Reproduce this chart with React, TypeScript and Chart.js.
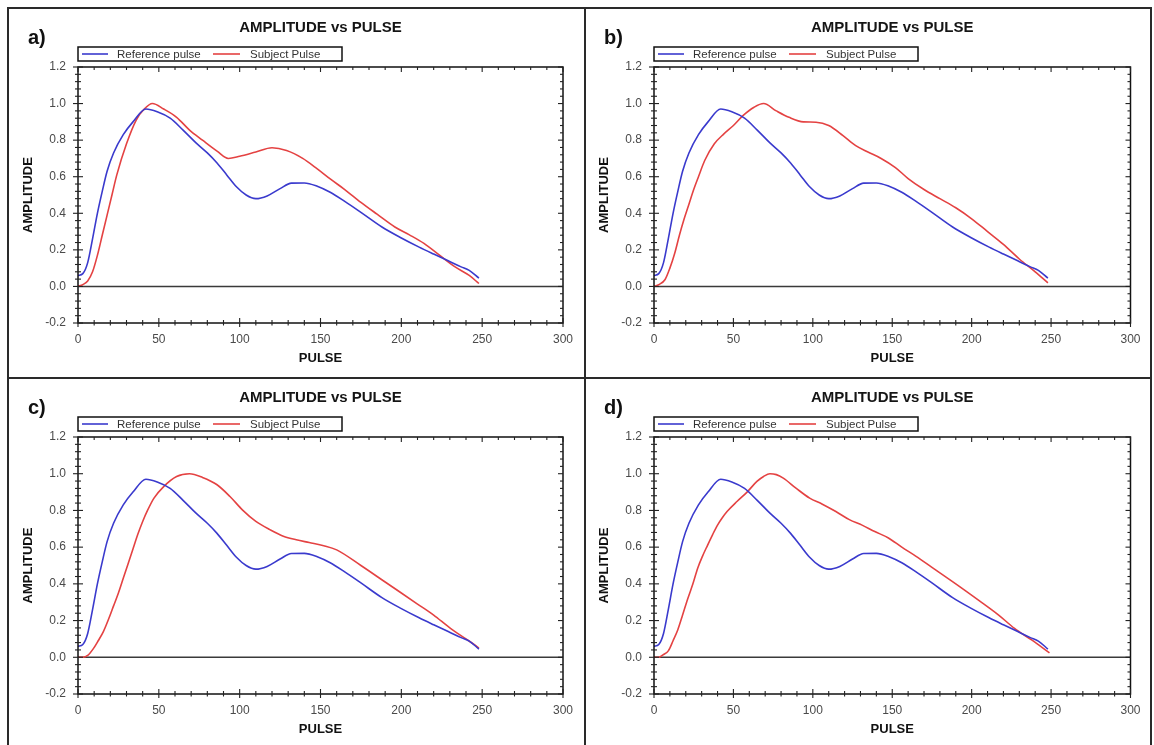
import React, { useEffect, useRef } from "react";
import { Chart, registerables } from "chart.js";

Chart.register(...registerables);

const FONT = "'Liberation Sans', Arial, sans-serif";
const BLUE = "rgb(58,58,205)";
const RED = "rgb(228,66,66)";

// ---- data ----
const seriesNames = ["Reference pulse", "Subject Pulse"];
const panelLabels = ["a)", "b)", "c)", "d)"];
const chartTitle = "AMPLITUDE vs PULSE";
const xAxisTitle = "PULSE";
const yAxisTitle = "AMPLITUDE";

const xMin = 0, xMax = 300, xStep = 50, xMinorStep = 10;
const yMin = -0.2, yMax = 1.2, yStep = 0.2, yMinorStep = 0.04;

const refPulseX = [0, 3, 6, 9, 12, 15, 18, 22, 28, 34, 42, 49, 57, 65, 73, 80, 86, 92, 98, 104, 110, 117, 125, 132, 140, 148, 156, 165, 175, 188, 200, 211, 220, 229, 237, 242, 248];
const refPulseY = [0.06, 0.07, 0.13, 0.26, 0.40, 0.52, 0.63, 0.73, 0.83, 0.90, 0.97, 0.955, 0.92, 0.855, 0.785, 0.73, 0.675, 0.61, 0.545, 0.50, 0.48, 0.495, 0.535, 0.565, 0.566, 0.548, 0.515, 0.465, 0.405, 0.325, 0.265, 0.215, 0.177, 0.14, 0.107, 0.088, 0.045];

const subjectAX = [0, 3, 6, 9, 12, 15, 18, 21, 24, 30, 36, 41, 46, 53, 61, 69, 77, 86, 93, 100, 110, 120, 129, 139, 148, 156, 165, 175, 185, 196, 205, 214, 224, 233, 242, 248];
const subjectAY = [0.0, 0.01, 0.03, 0.08, 0.17, 0.28, 0.39, 0.50, 0.61, 0.78, 0.91, 0.97, 1.0, 0.97, 0.925, 0.855, 0.80, 0.74, 0.70, 0.712, 0.735, 0.758, 0.743, 0.70, 0.643, 0.588, 0.53, 0.46, 0.395, 0.325, 0.282, 0.235, 0.168, 0.108, 0.06, 0.016];

const subjectBX = [0, 3, 7, 10, 13, 16, 19, 22, 25, 28, 32, 38, 44, 50, 56, 63, 69, 77, 85, 94, 102, 110, 119, 127, 135, 143, 152, 160, 170, 180, 190, 200, 210, 220, 230, 240, 248];
const subjectBY = [0.0, 0.01, 0.038, 0.1, 0.18, 0.28, 0.37, 0.45, 0.53, 0.60, 0.69, 0.78, 0.834, 0.88, 0.934, 0.98, 1.0, 0.96, 0.925, 0.90, 0.898, 0.88, 0.825, 0.77, 0.734, 0.70, 0.65, 0.59, 0.53, 0.48, 0.43, 0.37, 0.30, 0.23, 0.15, 0.08, 0.02];

const subjectCX = [0, 3, 6, 9.5, 12.5, 15.7, 19, 22, 25, 28, 31, 34, 37, 40, 43, 47, 53, 61, 69, 77, 86, 94, 102, 110, 119, 127, 135, 143, 152, 160, 175, 190, 200, 210, 220, 230, 240, 245, 248];
const subjectCY = [0.0, 0.0, 0.01, 0.047, 0.09, 0.14, 0.21, 0.28, 0.35, 0.43, 0.51, 0.59, 0.67, 0.74, 0.80, 0.867, 0.93, 0.985, 1.0, 0.98, 0.94, 0.876, 0.80, 0.74, 0.694, 0.66, 0.64, 0.625, 0.608, 0.585, 0.50, 0.41, 0.35, 0.29, 0.23, 0.16, 0.10, 0.07, 0.05];

const subjectDX = [0, 3, 6, 9, 12, 15, 18, 21.3, 24.5, 27.5, 30.5, 33.7, 37, 40, 43, 46, 52.4, 58.6, 64.8, 69, 73, 77, 81.4, 89.6, 98, 106, 114.5, 123, 131, 139, 147.6, 156, 165, 175, 190, 204.5, 217, 227, 238, 249];
const subjectDY = [0.0, 0.0, 0.015, 0.035, 0.09, 0.15, 0.23, 0.32, 0.40, 0.485, 0.55, 0.61, 0.67, 0.72, 0.76, 0.794, 0.85, 0.90, 0.958, 0.985, 1.0, 0.995, 0.976, 0.92, 0.867, 0.834, 0.794, 0.75, 0.72, 0.685, 0.65, 0.60, 0.55, 0.49, 0.40, 0.31, 0.23, 0.157, 0.093, 0.024];

const subjectXs = [subjectAX, subjectBX, subjectCX, subjectDX];
const subjectYs = [subjectAY, subjectBY, subjectCY, subjectDY];

// ---- layout (page px) ----
type Spec = {
  left: number; top: number; width: number; height: number;
  plotL: number; plotR: number; plotT: number; plotB: number;
};
const specs: Spec[] = [
  { left: 9, top: 9, width: 575, height: 368, plotL: 78, plotR: 563, plotT: 67, plotB: 323 },
  { left: 586, top: 9, width: 564, height: 368, plotL: 654, plotR: 1137, plotT: 67, plotB: 323 },
  { left: 9, top: 379, width: 575, height: 366, plotL: 78, plotR: 563, plotT: 437, plotB: 694 },
  { left: 586, top: 379, width: 564, height: 366, plotL: 654, plotR: 1137, plotT: 437, plotB: 694 },
];

const line = (ctx: CanvasRenderingContext2D, x1: number, y1: number, x2: number, y2: number) => {
  ctx.beginPath();
  ctx.moveTo(x1, y1);
  ctx.lineTo(x2, y2);
  ctx.stroke();
};

const decorPlugin = {
  id: "decor",
  beforeDatasetsDraw(chart: any) {
    const { ctx, chartArea: ca, scales } = chart;
    const y0 = scales.y.getPixelForValue(0);
    ctx.save();
    ctx.strokeStyle = "#3a3a3a";
    ctx.lineWidth = 1.6;
    line(ctx, ca.left, y0, ca.right, y0);
    ctx.restore();
  },
  afterDraw(chart: any, _args: any, opts: any) {
    const { ctx, chartArea: ca, scales } = chart;
    const L = ca.left, R = ca.right, T = ca.top, B = ca.bottom;
    ctx.save();
    // frame
    ctx.strokeStyle = "#111";
    ctx.lineWidth = 1.5;
    ctx.strokeRect(L, T, R - L, B - T);
    // ticks
    ctx.lineWidth = 1.1;
    ctx.strokeStyle = "#222";
    const nx = Math.round((xMax - xMin) / xMinorStep);
    for (let i = 0; i <= nx; i++) {
      const v = xMin + i * xMinorStep;
      const px = scales.x.getPixelForValue(v);
      const major = (v % xStep) === 0;
      line(ctx, px, B - (major ? 5 : 3), px, B + (major ? 4 : 2.5));
      line(ctx, px, T, px, T + (major ? 5 : 3));
    }
    const ny = Math.round((yMax - yMin) / yMinorStep);
    const per = Math.round(yStep / yMinorStep);
    for (let i = 0; i <= ny; i++) {
      const v = yMin + i * yMinorStep;
      const py = scales.y.getPixelForValue(v);
      const major = i % per === 0;
      line(ctx, L - (major ? 5 : 3), py, L + (major ? 5 : 3), py);
      line(ctx, R - (major ? 5 : 3), py, R, py);
    }
    // title
    ctx.fillStyle = "#151515";
    ctx.font = `bold 15px ${FONT}`;
    ctx.textAlign = "center";
    ctx.textBaseline = "middle";
    ctx.fillText(chartTitle, (L + R) / 2, T - 39);
    // panel label
    ctx.font = `bold 20px ${FONT}`;
    ctx.textAlign = "left";
    ctx.fillStyle = "#111";
    ctx.fillText(opts.label, L - 50, T - 29);
    // legend
    const ly = T - 13;
    ctx.strokeStyle = "#111";
    ctx.lineWidth = 1.5;
    ctx.strokeRect(L, T - 20, 264, 14);
    const ds = chart.data.datasets;
    const items = [
      { x0: L + 4, x1: L + 30, tx: L + 39 },
      { x0: L + 135, x1: L + 162, tx: L + 172 },
    ];
    ctx.font = `11.5px ${FONT}`;
    items.forEach((it, i) => {
      ctx.strokeStyle = ds[i].borderColor;
      ctx.lineWidth = 1.6;
      line(ctx, it.x0, ly, it.x1, ly);
      ctx.fillStyle = "#333";
      ctx.fillText(ds[i].label, it.tx, ly + 0.5);
    });
    ctx.restore();
  },
};

function Panel({ idx }: { idx: number }) {
  const ref = useRef<HTMLCanvasElement>(null);
  const s = specs[idx];
  useEffect(() => {
    const canvas = ref.current;
    if (!canvas) return;
    const yAxisWidth = s.plotL - s.left;
    const xAxisHeight = s.top + s.height - s.plotB;
    const yTitlePad = s.plotL - 50 - s.left - 7.8;
    const xTitlePad = s.top + s.height - (s.plotB + 35) - 7.8;
    const chart = new Chart(canvas, {
      type: "line",
      data: {
        datasets: [
          {
            label: seriesNames[0],
            data: refPulseX.map((x, i) => ({ x, y: refPulseY[i] })),
            borderColor: BLUE,
            borderWidth: 1.6,
            pointRadius: 0,
            cubicInterpolationMode: "monotone",
            fill: false,
          },
          {
            label: seriesNames[1],
            data: subjectXs[idx].map((x, i) => ({ x, y: subjectYs[idx][i] })),
            borderColor: RED,
            borderWidth: 1.6,
            pointRadius: 0,
            cubicInterpolationMode: "monotone",
            fill: false,
          },
        ],
      },
      options: {
        responsive: true,
        maintainAspectRatio: false,
        animation: false,
        events: [],
        layout: {
          padding: { left: 0, top: s.plotT - s.top, right: s.left + s.width - s.plotR, bottom: 0 },
        },
        plugins: {
          legend: { display: false },
          title: { display: false },
          tooltip: { enabled: false },
          decor: { label: panelLabels[idx] },
        } as any,
        scales: {
          x: {
            type: "linear",
            min: xMin,
            max: xMax,
            ticks: { stepSize: xStep, padding: 9.5, color: "#4a4a4a", font: { family: FONT, size: 12 } },
            grid: { display: false, drawTicks: false },
            border: { display: false },
            title: {
              display: true,
              text: xAxisTitle,
              color: "#111",
              font: { family: FONT, size: 13, weight: "bold" },
              padding: { top: 0, bottom: xTitlePad },
            },
            afterFit: (sc: any) => { sc.height = xAxisHeight; },
          },
          y: {
            type: "linear",
            min: yMin,
            max: yMax,
            ticks: {
              stepSize: yStep,
              padding: 12,
              color: "#4a4a4a",
              font: { family: FONT, size: 12 },
              callback: (v: any) => {
                const n = Number(v);
                return (Math.abs(n) < 1e-9 ? 0 : n).toFixed(1);
              },
            },
            grid: { display: false, drawTicks: false },
            border: { display: false },
            title: {
              display: true,
              text: yAxisTitle,
              color: "#111",
              font: { family: FONT, size: 13, weight: "bold" },
              padding: { top: yTitlePad, bottom: 0 },
            },
            afterFit: (sc: any) => { sc.width = yAxisWidth; },
          },
        },
      } as any,
      plugins: [decorPlugin],
    });
    return () => chart.destroy();
  }, [idx]);
  return (
    <div style={{ position: "absolute", left: s.left, top: s.top, width: s.width, height: s.height }}>
      <canvas ref={ref} />
    </div>
  );
}

const bar = (left: number, top: number, width: number, height: number) => (
  <div style={{ position: "absolute", left, top, width, height, background: "#2a2a2a" }} />
);

export default function App() {
  return (
    <div style={{ position: "absolute", left: 0, top: 0, width: 1154, height: 745, background: "#fff", overflow: "hidden" }}>
      {[0, 1, 2, 3].map((i) => <Panel key={i} idx={i} />)}
      {bar(7, 7, 1145, 2)}
      {bar(7, 7, 2, 740)}
      {bar(1150, 7, 2, 740)}
      {bar(584, 7, 2, 740)}
      {bar(7, 377, 1145, 2)}
    </div>
  );
}
